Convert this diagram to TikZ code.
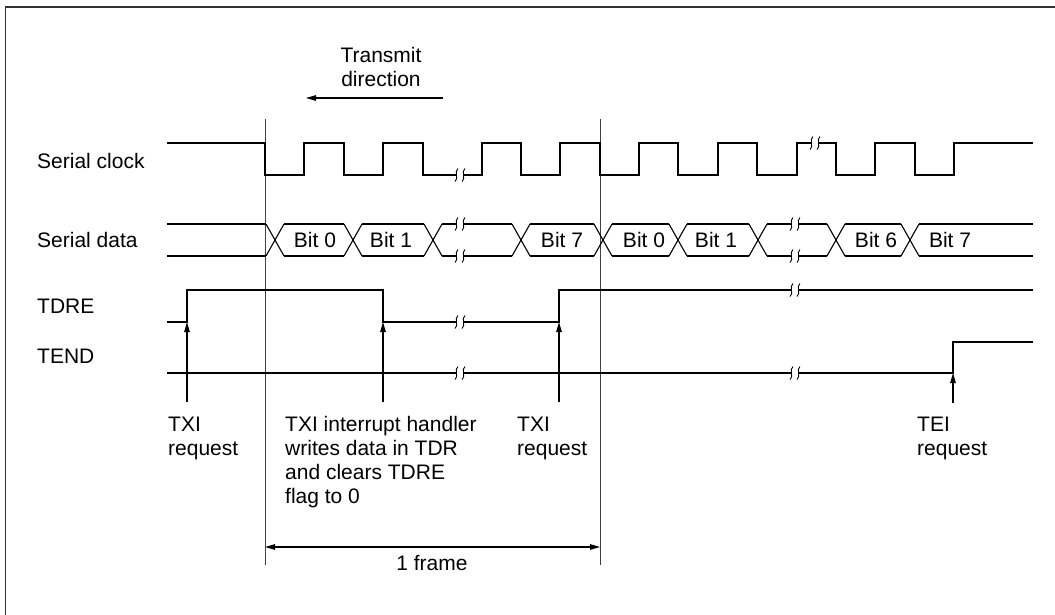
\documentclass[tikz,border=0pt]{standalone}
\usepackage{fontspec}
\setmainfont{Liberation Sans}
\usetikzlibrary{arrows.meta}
\tikzset{
  sig/.style={line width=1.1pt, line join=miter},
  uparrow/.style={line width=1.1pt, -{Triangle[length=10pt,width=5.5pt]}},
  framemark/.style={line width=1pt, black!75},
  lbl/.style={font=\fontsize{21}{24}\selectfont, inner sep=0pt, align=left},
  brkline/.style={line width=0.9pt},
}
\newcommand{\brkmark}[2]{%
  \fill[white] (#1-3.5,#2-1.6) rectangle (#1+3.5,#2+1.6);
  \draw[brkline] (#1-2,#2-6.5) .. controls (#1-6,#2-4) and (#1-1,#2+4) .. (#1-5,#2+6.5);
  \draw[brkline] (#1+5,#2-6.5) .. controls (#1+1,#2-4) and (#1+6,#2+4) .. (#1+2,#2+6.5);
}
\newcommand{\xcross}[1]{%
  \draw[sig] (#1-9,224) -- (#1+9,256);
  \draw[sig] (#1-9,256) -- (#1+9,224);
}
\begin{document}
\begin{tikzpicture}[x=1pt,y=-1pt]
\useasboundingbox (0,0) rectangle (1055,614);
% outer frame (top and left edges)
\draw[line width=1.6pt, black!80] (5.5,620) -- (5.5,7) -- (1060,7);

% row labels
\node[lbl, anchor=base west] (lclk) at (37,168) {Serial clock};
\node[lbl, anchor=base west] (ldat) at (37,247) {Serial data};
\node[lbl, anchor=base west] (ltdre) at (37,313) {TDRE};
\node[lbl, anchor=base west] (ltend) at (37,363) {TEND};

% transmit direction (base anchor = last line)
\node[lbl, align=center, anchor=base] (tdir) at (381,86) {Transmit\\direction};
\coordinate (ta) at (443,98);
\coordinate (tb) at (306,98);
\draw[uparrow] (ta) -- (tb);

% frame boundary lines
\coordinate (f1t) at (265,119); \coordinate (f1b) at (265,565);
\coordinate (f2t) at (600,119); \coordinate (f2b) at (600,565);
\draw[framemark] (f1t) -- (f1b);
\draw[framemark] (f2t) -- (f2b);

% serial clock
\draw[sig] (167,143) -- (265,143) -- (265,175) -- (304,175) -- (304,143) -- (344,143) -- (344,175)
  -- (383,175) -- (383,143) -- (423,143) -- (423,175) -- (482,175) -- (482,143) -- (521,143)
  -- (521,175) -- (560,175) -- (560,143) -- (600,143) -- (600,175) -- (639,175) -- (639,143)
  -- (678,143) -- (678,175) -- (718,175) -- (718,143) -- (757,143) -- (757,175) -- (797,175)
  -- (797,143) -- (836,143) -- (836,175) -- (875,175) -- (875,143) -- (915,143) -- (915,175)
  -- (954,175) -- (954,143) -- (1033,143);
\brkmark{460}{175}
\brkmark{815}{143}

% serial data
\draw[sig] (167,224) -- (266,224);
\draw[sig] (167,256) -- (266,256);
\foreach \a/\b in {284/344, 362/424, 442/512, 530/594, 612/669, 687/749, 767/827, 845/901, 919/1033} {
  \draw[sig] (\a,224) -- (\b,224);
  \draw[sig] (\a,256) -- (\b,256);
}
\xcross{275}\xcross{353}\xcross{433}\xcross{521}\xcross{603}
\xcross{678}\xcross{758}\xcross{836}\xcross{910}
\brkmark{460}{224}\brkmark{460}{256}
\brkmark{795}{224}\brkmark{795}{256}
\node[lbl, anchor=base] (b0) at (315,247) {Bit 0};
\node[lbl, anchor=base] (b1) at (391,247) {Bit 1};
\node[lbl, anchor=base] (b7) at (562,247) {Bit 7};
\node[lbl, anchor=base] (c0) at (644,247) {Bit 0};
\node[lbl, anchor=base] (c1) at (716,247) {Bit 1};
\node[lbl, anchor=base] (c6) at (876,247) {Bit 6};
\node[lbl, anchor=base] (c7) at (950,247) {Bit 7};

% TDRE
\draw[sig] (167,322) -- (187,322) -- (187,290) -- (383,290) -- (383,322) -- (559,322) -- (559,290) -- (1033,290);
\brkmark{460}{322}
\brkmark{795}{290}

% TEND
\draw[sig] (167,373) -- (953,373) -- (953,342) -- (1033,342);
\brkmark{460}{373}
\brkmark{795}{373}

% request arrows
\coordinate (r1b) at (187,402); \coordinate (r1t) at (187,322);
\coordinate (r2b) at (383,402); \coordinate (r2t) at (383,322);
\coordinate (r3b) at (559,402); \coordinate (r3t) at (559,322);
\coordinate (r4b) at (953,403); \coordinate (r4t) at (953,373);
\draw[uparrow] (r1b) -- (r1t);
\draw[uparrow] (r2b) -- (r2t);
\draw[uparrow] (r3b) -- (r3t);
\draw[uparrow] (r4b) -- (r4t);

% labels below (base anchor = last line)
\node[lbl, anchor=base west] (q1) at (168,455) {TXI\\request};
\node[lbl, anchor=base west] (q2) at (285,503) {TXI interrupt handler\\writes data in TDR\\and clears TDRE\\flag to 0};
\node[lbl, anchor=base west] (q3) at (517,455) {TXI\\request};
\node[lbl, anchor=base west] (q4) at (917,455) {TEI\\request};

% 1 frame
\coordinate (fa) at (265,547);
\coordinate (fb) at (600,547);
\draw[line width=1.1pt, {Triangle[length=10pt,width=5.5pt]}-{Triangle[length=10pt,width=5.5pt]}] (fa) -- (fb);
\node[lbl, anchor=base] (fr) at (432,570) {1 frame};
\end{tikzpicture}
\end{document}
